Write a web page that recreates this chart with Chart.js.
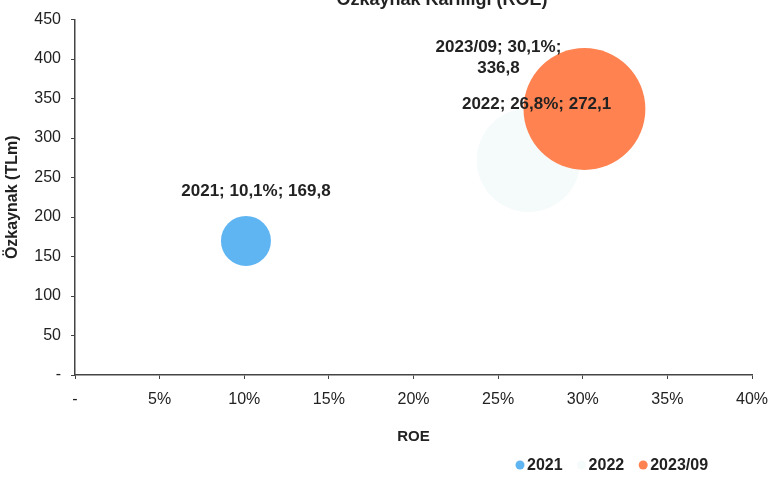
<!DOCTYPE html>
<html>
<head>
<meta charset="utf-8">
<script src="https://cdn.jsdelivr.net/npm/chart.js@4.4.1/dist/chart.umd.min.js"></script>
<style>
  html, body { margin: 0; padding: 0; background: #fff; }
  #wrap { width: 768px; height: 477px; position: relative; }
</style>
</head>
<body>
<div id="wrap"><canvas id="roeChart"></canvas></div>
<script>
// ── DATA ──
const periods    = ['2021', '2022', '2023/09'];
const roeValues  = [10.1, 26.8, 30.1];      // ROE (%)
const equity     = [169.8, 272.1, 336.8];   // Özkaynak (TLm)
const netProfit  = [17, 73, 101];           // bubble size
const pointNotes = ['2021; 10,1%; 169,8', '2022; 26,8%; 272,1', '2023/09; 30,1%;\n336,8'];

const colors = {
  blue:   '#5fb5f1',
  pale:   '#f5fafa',
  orange: '#ff8250',
  text:   '#222222',
  axis:   '#444444'
};
const seriesColors = [colors.blue, colors.pale, colors.orange];

// label offsets relative to bubble centre (px)
const noteOffsets = [[10, -50], [8, -56], [-86, -62]];

Chart.defaults.font.family = "'Liberation Sans', Arial, sans-serif";
Chart.defaults.color = colors.text;

// ── BUBBLE LABELS ──
const notePlugin = {
  id: 'notes',
  afterDatasetsDraw(chart) {
    const c = chart.ctx;
    c.save();
    c.font = "bold 17px 'Liberation Sans', Arial, sans-serif";
    c.fillStyle = colors.text;
    c.textAlign = 'center';
    c.textBaseline = 'middle';
    chart.data.datasets.forEach((ds, i) => {
      const el = chart.getDatasetMeta(i).data[0];
      const lines = pointNotes[i].split('\n');
      lines.forEach((ln, j) => {
        c.fillText(ln, el.x + noteOffsets[i][0], el.y + noteOffsets[i][1] + j * 21);
      });
    });
    c.restore();
  }
};

// ── TITLE (cut off at the top) + LEGEND ──
const extrasPlugin = {
  id: 'extras',
  afterDraw(chart) {
    const c = chart.ctx;
    c.save();
    c.font = "bold 18px 'Liberation Sans', Arial, sans-serif";
    c.fillStyle = colors.text;
    c.textAlign = 'center';
    c.textBaseline = 'alphabetic';
    c.fillText('Özkaynak Karlılığı (ROE)', 442, 5);

    // legend
    c.font = "bold 16px 'Liberation Sans', Arial, sans-serif";
    c.textBaseline = 'middle';
    c.textAlign = 'left';
    let x = 516;
    const y = 465;
    chart.data.datasets.forEach((ds) => {
      c.fillStyle = ds.backgroundColor;
      c.beginPath();
      c.arc(x + 4, y, 4.5, 0, Math.PI * 2);
      c.fill();
      c.fillStyle = colors.text;
      c.fillText(ds.label, x + 11, y + 1);
      x += 11 + c.measureText(ds.label).width + 15;
    });
    c.restore();
  }
};

const rScale = 25 / Math.sqrt(netProfit[0]);

new Chart(document.getElementById('roeChart'), {
  type: 'bubble',
  data: {
    datasets: periods.map((p, i) => ({
      label: p,
      data: [{ x: roeValues[i], y: equity[i], r: rScale * Math.sqrt(netProfit[i]) }],
      backgroundColor: seriesColors[i],
      borderWidth: 0,
      hoverBorderWidth: 0,
      order: periods.length - i
    }))
  },
  options: {
    responsive: true,
    maintainAspectRatio: false,
    animation: false,
    layout: { autoPadding: false, padding: { top: 15, right: 16, left: 0, bottom: 0 } },
    plugins: {
      legend: { display: false },
      tooltip: { enabled: false }
    },
    scales: {
      x: {
        type: 'linear',
        min: 0, max: 40,
        afterFit: (s) => { s.height = 102; s.paddingLeft = 0; s.paddingRight = 0; },
        grid: { drawOnChartArea: false, tickLength: 4, color: colors.axis },
        border: { color: colors.axis, width: 1.5 },
        ticks: {
          stepSize: 5,
          padding: 11,
          color: colors.text,
          font: { size: 16 },
          callback: (v) => v === 0 ? '-' : v + '%'
        },
        title: {
          display: true,
          text: 'ROE',
          color: colors.text,
          font: { size: 15, weight: 'bold' },
          padding: { top: 0, bottom: 31 }
        }
      },
      y: {
        min: 0, max: 450,
        afterFit: (s) => { s.width = 75; },
        grid: { drawOnChartArea: false, tickLength: 4, color: colors.axis },
        border: { color: colors.axis, width: 1.5 },
        ticks: {
          stepSize: 50,
          padding: 10,
          color: colors.text,
          font: { size: 16 },
          callback: (v) => v === 0 ? '-' : v
        },
        title: {
          display: true,
          text: 'Özkaynak (TLm)',
          color: colors.text,
          font: { size: 16, weight: 'bold' },
          padding: { top: 3, bottom: 0 }
        }
      }
    }
  },
  plugins: [notePlugin, extrasPlugin]
});
</script>
</body>
</html>
